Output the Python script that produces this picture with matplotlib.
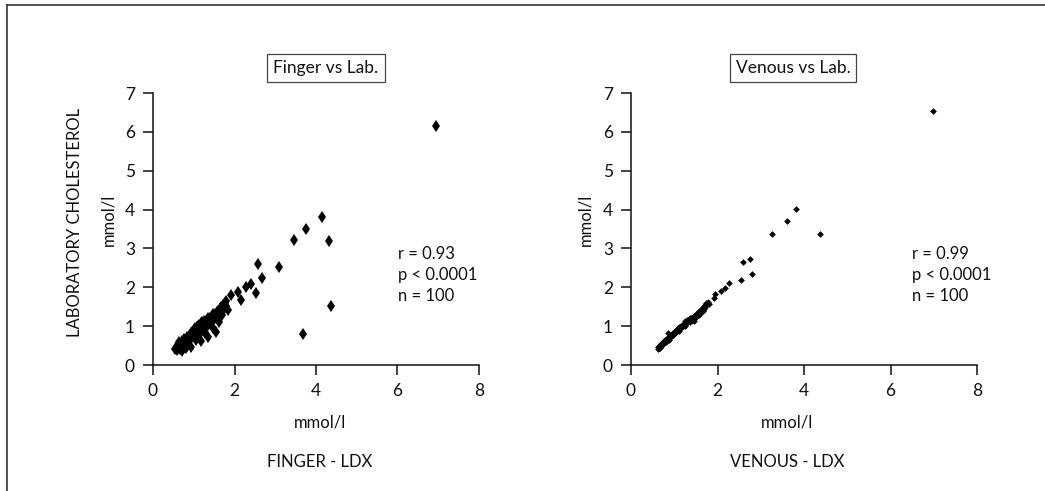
import matplotlib
matplotlib.use("Agg")
import matplotlib.pyplot as plt
from matplotlib.lines import Line2D

plt.rcParams["font.family"] = ["Lato", "DejaVu Sans"]

# Finger-LDX vs laboratory cholesterol (mmol/l)
finger_x = [6.94, 4.14, 3.75, 3.46, 4.33, 3.08, 2.58, 2.67, 2.53, 4.38, 3.69, 2.40, 2.29, 2.09, 1.92, 2.17,
            0.55, 0.58, 0.60, 0.62, 0.63, 0.65, 0.66, 0.68, 0.70, 0.71, 0.72, 0.74, 0.75, 0.77, 0.78,
            0.80, 0.81, 0.83, 0.85, 0.86, 0.88, 0.90, 0.91, 0.93, 0.95, 0.96, 0.98, 1.00, 1.02, 1.03,
            1.05, 1.07, 1.08, 1.10, 1.12, 1.13, 1.15, 1.17, 1.18, 1.20, 1.22, 1.24, 1.25, 1.27, 1.29,
            1.30, 1.32, 1.34, 1.36, 1.38, 1.40, 1.42, 1.44, 1.46, 1.48, 1.50, 1.52, 1.54, 1.56, 1.58,
            1.60, 1.62, 1.64, 1.66, 1.68, 1.70, 1.72, 1.74, 1.76, 1.78, 1.80, 1.84,
            0.94, 1.19, 1.35, 1.55, 0.72, 1.05, 1.28, 1.62, 1.48, 0.82, 1.12, 1.70]
finger_y = [6.16, 3.82, 3.51, 3.21, 3.20, 2.51, 2.60, 2.25, 1.85, 1.53, 0.80, 2.09, 2.00, 1.88, 1.80, 1.68,
            0.42, 0.50, 0.38, 0.52, 0.45, 0.58, 0.40, 0.55, 0.48, 0.62, 0.44, 0.60, 0.52, 0.66, 0.50,
            0.64, 0.57, 0.72, 0.60, 0.70, 0.63, 0.78, 0.66, 0.82, 0.72, 0.86, 0.75, 0.90, 0.80, 0.94,
            0.82, 0.97, 0.86, 1.00, 0.90, 1.04, 0.92, 1.07, 0.96, 1.10, 0.98, 1.12, 1.02, 1.06, 1.14,
            0.98, 1.16, 1.04, 1.20, 1.08, 1.22, 1.12, 1.26, 1.14, 1.30, 1.18, 1.32, 1.22, 1.36, 1.26,
            1.40, 1.30, 1.44, 1.34, 1.50, 1.40, 1.55, 1.45, 1.60, 1.52, 1.65, 1.42,
            0.47, 0.62, 0.73, 0.86, 0.36, 0.64, 0.82, 1.10, 0.95, 0.44, 0.76, 1.28]

# Venous-LDX vs laboratory cholesterol (mmol/l)
venous_x = [6.98, 3.81, 3.61, 3.27, 4.37, 2.75, 2.60, 2.79, 2.54, 2.27, 2.18, 2.08, 1.95, 1.93,
            0.62, 0.63, 0.64, 0.65, 0.66, 0.67, 0.68, 0.69, 0.70, 0.71,
            0.72, 0.73, 0.74, 0.75, 0.76, 0.77, 0.78, 0.79, 0.80, 0.81,
            0.82, 0.83, 0.84, 0.85, 0.86, 0.87, 0.88, 0.90, 0.91, 0.92,
            0.94, 0.95, 0.96, 0.98, 0.99, 1.00, 1.02, 1.03, 1.05, 1.06,
            1.08, 1.09, 1.11, 1.12, 1.14, 1.15, 1.17, 1.18, 1.20, 1.22,
            1.24, 1.26, 1.28, 1.30, 1.32, 1.34, 1.36, 1.38, 1.40, 1.42,
            1.44, 1.46, 1.48, 1.50, 1.52, 1.54, 1.56, 1.58, 1.60, 1.62,
            1.64, 1.66, 1.68, 1.70, 1.72, 1.74, 1.76, 1.78, 1.80, 1.46,
            1.36, 1.58, 1.10, 0.89, 1.25, 1.66]
venous_y = [6.53, 4.02, 3.71, 3.37, 3.37, 2.74, 2.65, 2.34, 2.19, 2.10, 1.98, 1.91, 1.82, 1.72,
            0.40, 0.46, 0.43, 0.50, 0.45, 0.52, 0.48, 0.55, 0.50, 0.56,
            0.52, 0.58, 0.55, 0.60, 0.57, 0.62, 0.58, 0.64, 0.60, 0.66,
            0.62, 0.68, 0.64, 0.82, 0.68, 0.72, 0.69, 0.74, 0.71, 0.76,
            0.74, 0.79, 0.77, 0.82, 0.79, 0.85, 0.83, 0.88, 0.86, 0.92,
            0.90, 0.96, 0.93, 0.98, 0.96, 1.00, 0.98, 1.03, 1.00, 1.06,
            1.04, 1.12, 1.08, 1.15, 1.12, 1.18, 1.10, 1.20, 1.16, 1.22,
            1.18, 1.25, 1.22, 1.30, 1.26, 1.34, 1.30, 1.38, 1.35, 1.42,
            1.40, 1.48, 1.44, 1.55, 1.50, 1.60, 1.56, 1.62, 1.58, 1.12,
            1.22, 1.28, 0.88, 0.64, 1.00, 1.38]

ticks_x = [0, 2, 4, 6, 8]
ticks_y = [0, 1, 2, 3, 4, 5, 6, 7]

W, H = 1045, 491
fig = plt.figure(figsize=(W / 100, H / 100), dpi=100)
ink = "#111111"


def px(x0, y0, x1, y1):
    # pixel box (left, top, right, bottom) -> figure fraction rect
    return [x0 / W, 1 - y1 / H, (x1 - x0) / W, (y1 - y0) / H]


panels = [
    dict(rect=px(153, 93, 479, 365), x=finger_x, y=finger_y, ms=6.5, marker="d",
         title="Finger vs Lab.", stats="r = 0.93\np < 0.0001\nn = 100",
         xlab="FINGER - LDX", stats_x=398, tcx=326, ylab_x=108),
    dict(rect=px(631, 93, 977, 365), x=venous_x, y=venous_y, ms=3.4, marker="D",
         title="Venous vs Lab.", stats="r = 0.99\np < 0.0001\nn = 100",
         xlab="VENOUS - LDX", stats_x=912, tcx=793, ylab_x=585),
]

for p in panels:
    ax = fig.add_axes(p["rect"])
    ax.plot(p["x"], p["y"], linestyle="none", marker=p["marker"], ms=p["ms"],
            color="black", markeredgewidth=0)
    ax.set_xlim(0, 8)
    ax.set_ylim(0, 7)
    ax.set_xticks(ticks_x)
    ax.set_yticks(ticks_y)
    ax.tick_params(direction="out", length=7, width=1.1, labelsize=12.5,
                   colors=ink, pad=6)
    for s in ("top", "right"):
        ax.spines[s].set_visible(False)
    for s in ("left", "bottom"):
        ax.spines[s].set_linewidth(1.1)
        ax.spines[s].set_color(ink)
    ax.patch.set_alpha(0)

    fig.text(p["tcx"] / W, 1 - 68 / H, p["title"], ha="center", va="center",
             fontsize=12.5, color=ink,
             bbox=dict(boxstyle="square,pad=0.35", fc="white", ec="#444444", lw=0.9))
    fig.text(p["stats_x"] / W, 1 - 275 / H, p["stats"], ha="left", va="center",
             fontsize=12, color=ink, linespacing=1.35)
    fig.text(p["tcx"] / W - 6 / W, 1 - 423 / H, "mmol/l", ha="center", va="center",
             fontsize=12, color=ink)
    fig.text(p["tcx"] / W - 6 / W, 1 - 462 / H, p["xlab"], ha="center", va="center",
             fontsize=12, color=ink)
    fig.text(p["ylab_x"] / W, 1 - 220 / H, "mmol/l", ha="center", va="center",
             rotation=90, fontsize=12, color=ink)

fig.text(75 / W, 1 - 222 / H, "LABORATORY CHOLESTEROL", ha="center", va="center",
         rotation=90, fontsize=12, color=ink)

# page frame (top and left edges only)
fig.add_artist(Line2D([7 / W, 1], [1 - 5 / H, 1 - 5 / H], color="#333333", lw=1.2))
fig.add_artist(Line2D([7 / W, 7 / W], [0, 1 - 5 / H], color="#333333", lw=1.2))

fig.savefig("out.png", dpi=100)
